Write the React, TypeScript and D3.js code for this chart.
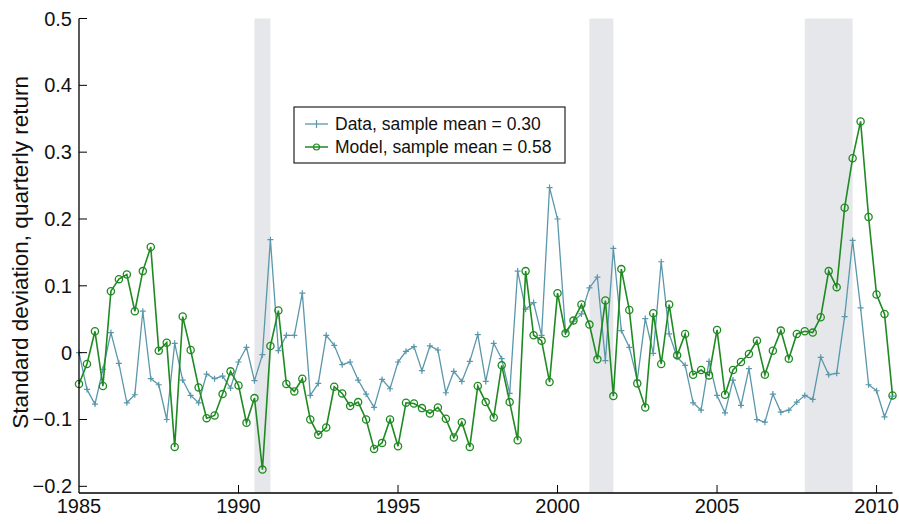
import React from 'react';
import * as d3 from 'd3';

// quarterly observations, 1985Q1 .. 2010Q3
const startYear = 1985;
const dataSeries = [
  0.0, -0.055, -0.077, -0.025, 0.03, -0.016, -0.075, -0.063, 0.062, -0.039,
  -0.048, -0.1, 0.014, -0.041, -0.064, -0.075, -0.032, -0.039, -0.035, -0.053,
  -0.014, 0.008, -0.042, -0.003, 0.169, 0.003, 0.026, 0.026, 0.089, -0.064,
  -0.046, 0.026, 0.011, -0.018, -0.014, -0.041, -0.062, -0.082, -0.04, -0.054,
  -0.014, 0.002, 0.009, -0.027, 0.01, 0.004, -0.06, -0.028, -0.043, -0.013,
  0.027, -0.043, 0.014, -0.009, -0.061, 0.122, 0.065, 0.075, 0.026, 0.247,
  0.2, 0.031, 0.047, 0.058, 0.097, 0.113, -0.012, 0.156, 0.033, 0.008,
  -0.041, 0.051, -0.001, 0.136, 0.028, -0.007, -0.019, -0.075, -0.086, -0.013,
  -0.064, -0.09, -0.041, -0.079, -0.024, -0.1, -0.104, -0.062, -0.089, -0.086,
  -0.074, -0.064, -0.07, -0.007, -0.033, -0.031, 0.054, 0.168, 0.067, -0.048,
  -0.057, -0.096, -0.065,
];
const modelSeries = [
  -0.047, -0.017, 0.032, -0.05, 0.092, 0.11, 0.117, 0.062, 0.122, 0.158,
  0.003, 0.015, -0.141, 0.054, 0.004, -0.052, -0.098, -0.094, -0.062, -0.028,
  -0.049, -0.105, -0.068, -0.175, 0.01, 0.063, -0.047, -0.058, -0.039, -0.1,
  -0.123, -0.112, -0.051, -0.061, -0.08, -0.074, -0.1, -0.144, -0.135, -0.1,
  -0.14, -0.075, -0.076, -0.083, -0.091, -0.082, -0.099, -0.127, -0.104, -0.141,
  -0.05, -0.074, -0.097, -0.019, -0.074, -0.131, 0.122, 0.026, 0.018, -0.044,
  0.089, 0.029, 0.048, 0.072, 0.042, -0.01, 0.078, -0.065, 0.125, 0.064,
  -0.046, -0.082, 0.059, -0.017, 0.072, -0.004, 0.028, -0.033, -0.026, -0.034,
  0.034, -0.063, -0.026, -0.014, -0.002, 0.018, -0.033, 0.003, 0.033, -0.009,
  0.028, 0.032, 0.03, 0.053, 0.122, 0.098, 0.217, 0.291, 0.346, 0.203,
  0.087, 0.058, -0.064,
];
const recessions = [
  [1990.5, 1991.0],
  [2001.0, 2001.75],
  [2007.75, 2009.25],
];
const yTicks = [-0.2, -0.1, 0, 0.1, 0.2, 0.3, 0.4, 0.5];
const xTicks = [1985, 1990, 1995, 2000, 2005, 2010];
const legendLabels = ['Data, sample mean = 0.30', 'Model, sample mean = 0.58'];

const BLUE = '#5a97ab';
const GREEN = '#1f8a22';
const FONT = '"Liberation Sans", Arial, Helvetica, sans-serif';

export default function App() {
  const width = 899;
  const height = 524;
  const x = d3.scaleLinear().domain([1985, 2010.5]).range([79, 892.5]);
  const y = d3.scaleLinear().domain([-0.21, 0.5]).range([493, 18.5]);

  const toPts = (arr: number[]) => arr.map((v, i) => [startYear + i * 0.25, v] as [number, number]);
  const line = d3.line<[number, number]>().x(d => x(d[0])).y(d => y(d[1]));
  const dataPts = toPts(dataSeries);
  const modelPts = toPts(modelSeries);
  const fmt = (v: number) => (v < 0 ? '\u2212' + Math.abs(v) : String(v));

  return (
    <svg width={width} height={height} style={{ position: 'absolute', left: 0, top: 0, background: '#fff' }}>
      {recessions.map(([a, b], i) => (
        <rect key={i} x={x(a)} y={y(0.5)} width={x(b) - x(a)} height={y(-0.21) - y(0.5)} fill="#e6e7ea" />
      ))}

      <path d={line(dataPts) || ''} fill="none" stroke={BLUE} strokeWidth={1.3} />
      {dataPts.map((d, i) => (
        <path key={i} d={`M${x(d[0]) - 3},${y(d[1])}h6M${x(d[0])},${y(d[1]) - 3}v6`} stroke={BLUE} strokeWidth={1.2} />
      ))}

      <path d={line(modelPts) || ''} fill="none" stroke={GREEN} strokeWidth={1.6} />
      {modelPts.map((d, i) => (
        <circle key={i} cx={x(d[0])} cy={y(d[1])} r={3.6} fill="none" stroke={GREEN} strokeWidth={1.3} />
      ))}

      {/* axes */}
      <line x1={79} x2={79} y1={y(0.5)} y2={493} stroke="#000" strokeWidth={1.3} />
      <line x1={79} x2={892.5} y1={493} y2={493} stroke="#000" strokeWidth={1.3} />
      {yTicks.map(t => (
        <g key={t}>
          <line x1={79} x2={87} y1={y(t)} y2={y(t)} stroke="#000" strokeWidth={1} />
          <text x={72} y={y(t)} dy="0.35em" textAnchor="end" fontFamily={FONT} fontSize={20} fill="#111">
            {fmt(t)}
          </text>
        </g>
      ))}
      {xTicks.map(t => (
        <g key={t}>
          {t > 1985 && <line x1={x(t)} x2={x(t)} y1={493} y2={485} stroke="#000" strokeWidth={1} />}
          <text x={x(t)} y={513} textAnchor="middle" fontFamily={FONT} fontSize={20} fill="#111">
            {t}
          </text>
        </g>
      ))}
      <text
        transform={`translate(28,${y(0.15)}) rotate(-90)`}
        textAnchor="middle"
        fontFamily={FONT}
        fontSize={22.5}
        fill="#111"
      >
        Standard deviation, quarterly return
      </text>

      {/* legend */}
      <rect x={294} y={107} width={271} height={56} fill="#fff" stroke="#222" strokeWidth={1.2} />
      <line x1={305} x2={328} y1={124} y2={124} stroke={BLUE} strokeWidth={1.3} />
      <path d="M316.5,120v8" stroke={BLUE} strokeWidth={1.2} />
      <line x1={305} x2={328} y1={147} y2={147} stroke={GREEN} strokeWidth={1.5} />
      <circle cx={316.5} cy={147} r={3} fill="none" stroke={GREEN} strokeWidth={1.2} />
      <text x={335} y={130} fontFamily={FONT} fontSize={17.5} fill="#111">{legendLabels[0]}</text>
      <text x={335} y={153} fontFamily={FONT} fontSize={17.5} fill="#111">{legendLabels[1]}</text>
    </svg>
  );
}
